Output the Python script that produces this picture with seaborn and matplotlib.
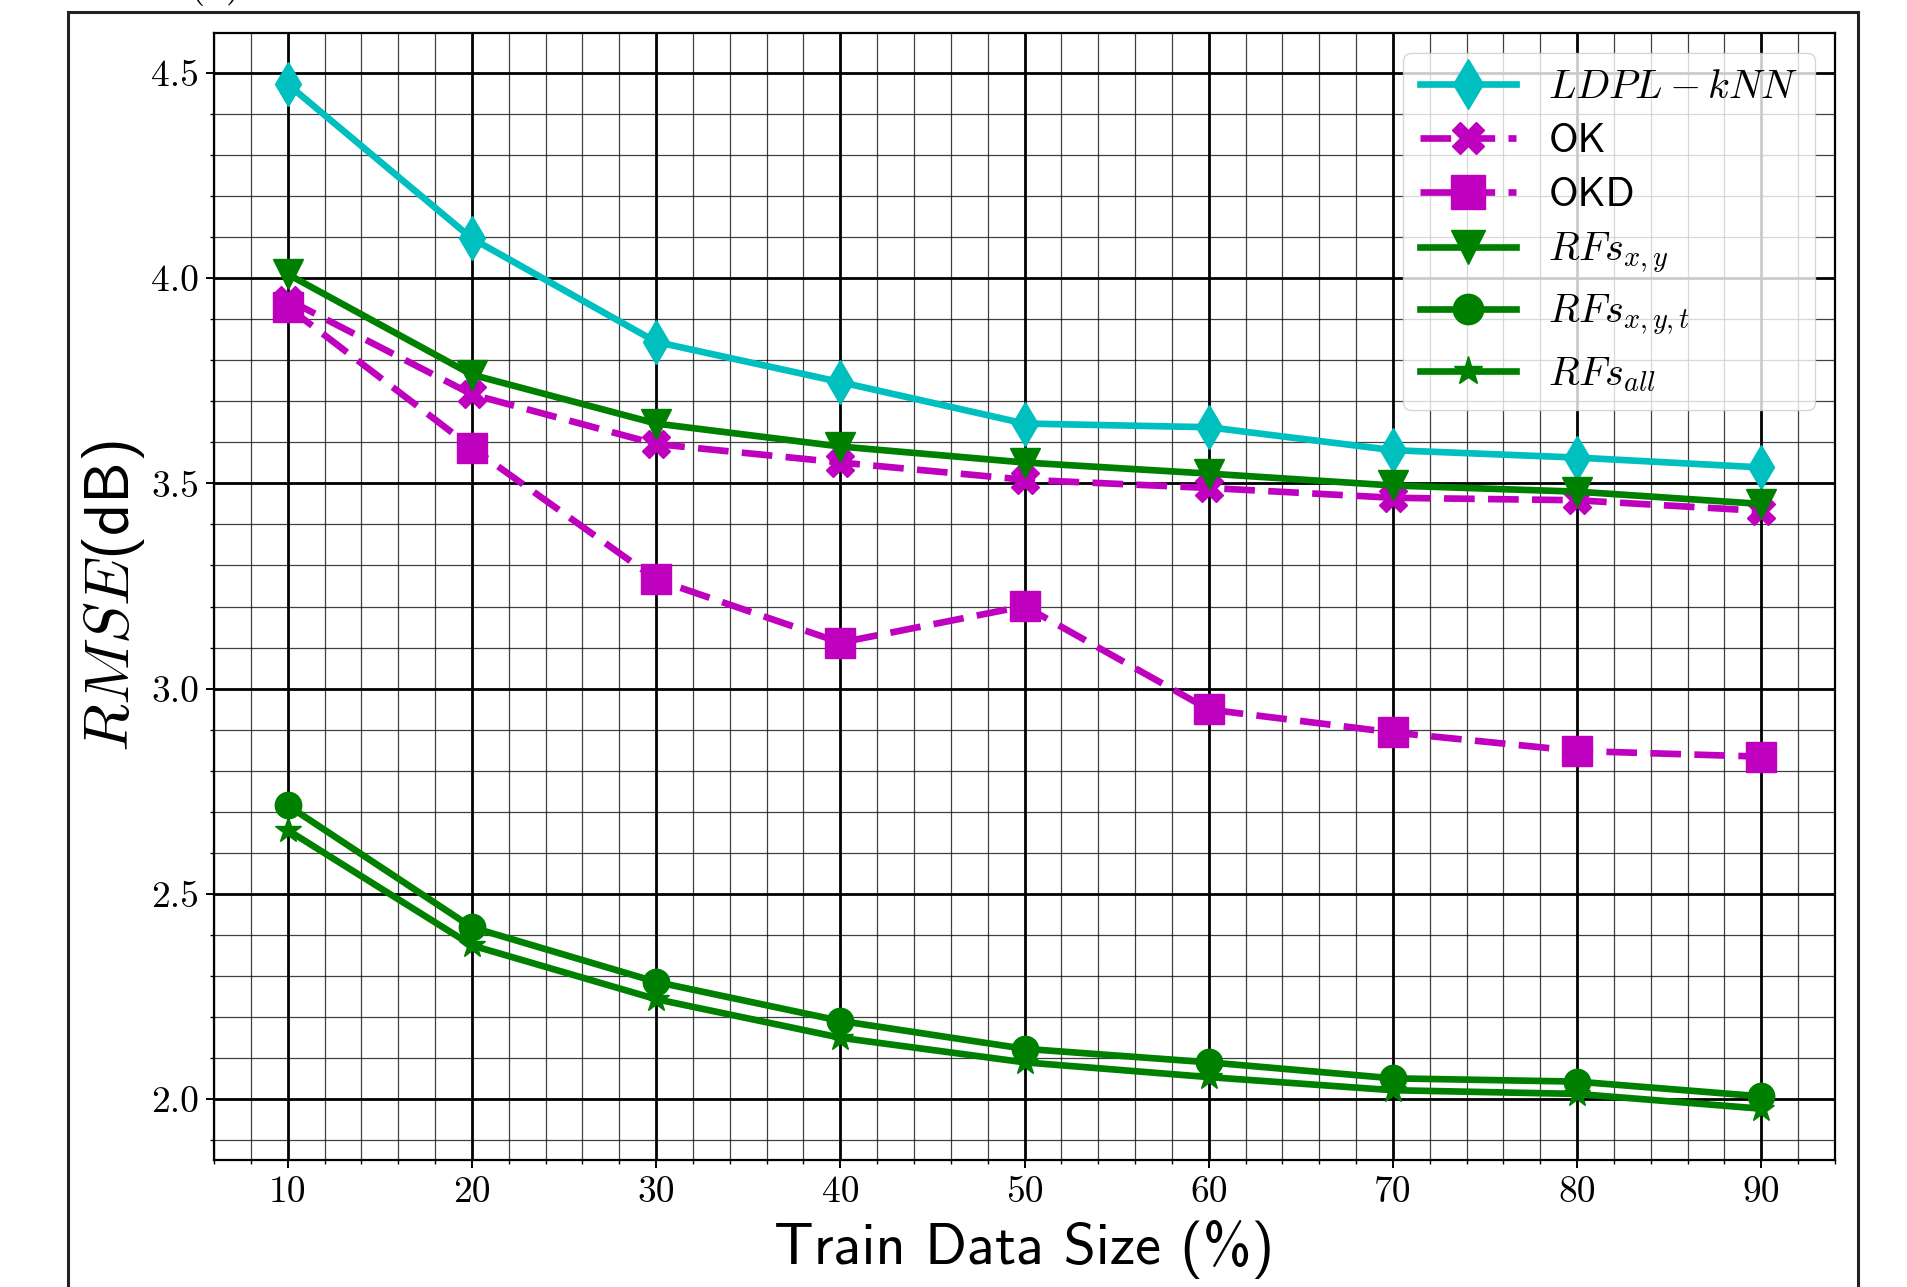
import matplotlib
matplotlib.use("Agg")
import matplotlib.pyplot as plt
from matplotlib.patches import Rectangle
from matplotlib.ticker import MultipleLocator, FormatStrFormatter
import pandas as pd
import seaborn as sns

# train data size (%)
train_size = [10, 20, 30, 40, 50, 60, 70, 80, 90]

# RMSE (dB)
ldpl_knn = [4.473, 4.097, 3.845, 3.747, 3.646, 3.637, 3.581, 3.563, 3.539]
ok = [3.948, 3.717, 3.596, 3.551, 3.509, 3.489, 3.465, 3.459, 3.433]
okd = [3.930, 3.587, 3.266, 3.112, 3.201, 2.949, 2.893, 2.848, 2.834]
rfs_xy = [4.010, 3.765, 3.646, 3.590, 3.551, 3.524, 3.495, 3.480, 3.450]
rfs_xyt = [2.715, 2.418, 2.285, 2.190, 2.122, 2.089, 2.050, 2.042, 2.006]
rfs_all = [2.655, 2.374, 2.243, 2.149, 2.089, 2.053, 2.021, 2.012, 1.976]

labels = [r'$LDPL-kNN$', 'OK', 'OKD', r'$RFs_{x,y}$', r'$RFs_{x,y,t}$', r'$RFs_{all}$']
series = [ldpl_knn, ok, okd, rfs_xy, rfs_xyt, rfs_all]

plt.rcParams['mathtext.fontset'] = 'cm'
plt.rcParams['axes.unicode_minus'] = False

dash = (0, (4.6, 2.0))
styles = [
    dict(color='c', marker='d', ms=22, ls='-'),
    dict(color='m', marker='X', ms=20, ls=dash),
    dict(color='m', marker='s', ms=21, ls=dash),
    dict(color='g', marker='v', ms=21, ls='-'),
    dict(color='g', marker='o', ms=19, ls='-'),
    dict(color='g', marker='*', ms=19, ls='-'),
]

fig = plt.figure(figsize=(19.08, 12.87), dpi=100)
ax = fig.add_axes([0.1122, 0.0987, 0.8495, 0.8757])

for lab, vals, st in zip(labels, series, styles):
    df = pd.DataFrame({'size': train_size, 'rmse': vals})
    sns.lineplot(data=df, x='size', y='rmse', ax=ax, label=lab,
                 color=st['color'], marker=st['marker'], markersize=st['ms'],
                 linestyle=st['ls'], linewidth=4.8, estimator=None,
                 markeredgecolor=st['color'], markeredgewidth=1)

ax.xaxis.set_major_locator(MultipleLocator(10))
ax.xaxis.set_minor_locator(MultipleLocator(2))
ax.yaxis.set_major_locator(MultipleLocator(0.5))
ax.yaxis.set_minor_locator(MultipleLocator(0.1))
ax.yaxis.set_major_formatter(FormatStrFormatter('%.1f'))
ax.set_xlim(6, 94)
ax.set_ylim(1.851, 4.598)

ax.grid(which='major', color='k', linewidth=2.0)
ax.grid(which='minor', color='k', linewidth=0.9, alpha=0.75)
ax.set_axisbelow(True)
for sp in ax.spines.values():
    sp.set_linewidth(1.6)
ax.tick_params(which='major', length=6, width=1.4, labelsize=27, pad=5)
ax.tick_params(which='minor', length=3, width=1.0)
for t in ax.get_xticklabels() + ax.get_yticklabels():
    t.set_fontfamily('cmr10')

ax.set_xlabel('Train Data Size (%)', fontfamily='cmss10', fontsize=42, labelpad=8)
ax.set_ylabel(r'$RMSE$(dB)', fontfamily='cmss10', fontsize=45, labelpad=3)

ax.legend(loc='upper right', prop={'family': 'cmss10', 'size': 29},
          handlelength=2.4, handletextpad=0.8, borderaxespad=0.5,
          labelspacing=0.42, markerscale=1.15)

# outer frame of the panel, cut at the bottom of the image
fig.add_artist(Rectangle((0.0356, -0.1), 0.9382, 1.0907, transform=fig.transFigure,
                         fill=False, linewidth=2.2, edgecolor='#222222', clip_on=False))
fig.text(0.113, 1.0 + 5 / 1287, '(a)', fontfamily='cmr10', fontsize=30,
         ha='center', va='baseline')

fig.savefig('out.png', dpi=100)
